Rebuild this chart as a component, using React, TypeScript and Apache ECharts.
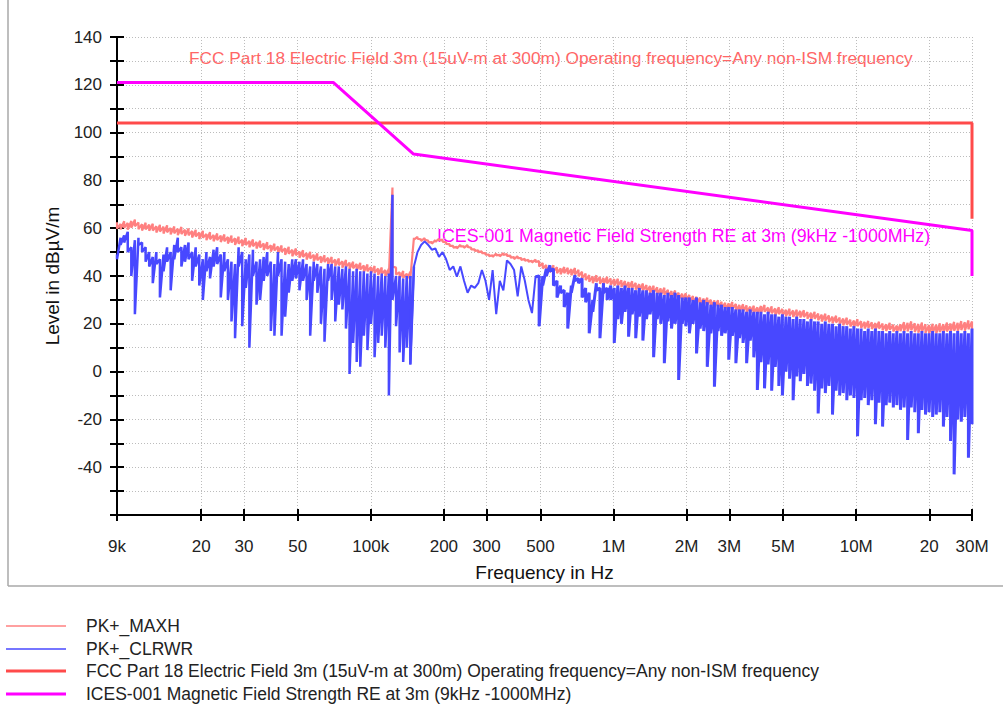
import React, { useEffect, useRef } from "react";
import * as echarts from "echarts";

// ---- sweep (measurement frequency grid, log spaced bins) ----
const FREQ_START = 9e3;
const FREQ_STOP = 30e6;
const SWEEP_POINTS = 240;

// ---- x-axis ticks ----
const xTickFreqs = [9e3, 2e4, 3e4, 5e4, 1e5, 2e5, 3e5, 5e5, 1e6, 2e6, 3e6, 5e6, 1e7, 2e7, 3e7];
const xTickLabels = ["9k", "20", "30", "50", "100k", "200", "300", "500", "1M", "2M", "3M", "5M", "10M", "20", "30M"];

// ---- PK+_MAXH: per-bin max and min level (dBµV/m) ----
const maxhHigh = [
  62.5, 61.8, 62.9, 62.2, 63.0, 63.6, 62.4, 61.7, 62.3, 61.5,
  61.9, 60.8, 61.4, 60.6, 61.2, 60.1, 60.7, 59.8, 60.5, 59.4,
  59.9, 58.8, 59.3, 58.2, 58.9, 57.6, 58.3, 57.2, 57.8, 56.9,
  57.4, 56.3, 56.9, 55.8, 56.4, 55.2, 55.9, 54.7, 55.3, 54.2,
  54.8, 53.6, 54.1, 52.9, 53.5, 52.3, 52.8, 51.6, 52.2, 51.0,
  51.5, 50.3, 50.8, 49.6, 50.1, 48.9, 49.4, 48.2, 48.7, 47.6,
  48.0, 46.9, 47.3, 46.2, 46.7, 45.6, 46.0, 45.0, 45.5, 44.4,
  44.8, 43.8, 44.2, 43.1, 43.6, 42.5, 43.0, 77.0, 43.5, 41.6,
  42.1, 41.0, 41.8, 56.0, 56.4, 55.3, 55.9, 54.8, 54.2, 55.0,
  55.6, 55.2, 54.1, 53.3, 52.6, 52.2, 53.1, 52.4, 53.0, 51.8,
  51.2, 50.7, 50.3, 49.6, 49.0, 48.7, 49.4, 48.9, 49.6, 49.2,
  48.5, 47.9, 48.3, 47.5, 47.2, 46.8, 46.4, 46.9, 46.2, 45.4,
  44.6, 44.0, 44.5, 43.7, 43.2, 43.8, 43.4, 42.9, 43.3, 42.6,
  41.8, 41.0, 40.4, 39.8, 40.3, 39.6, 39.2, 39.7, 39.0, 38.7,
  38.9, 38.2, 37.9, 37.5, 37.8, 37.1, 36.6, 36.9, 36.2, 35.8,
  35.9, 35.3, 34.8, 35.1, 34.2, 33.7, 33.9, 33.0, 32.6, 32.8,
  32.1, 31.6, 31.3, 31.0, 30.6, 30.9, 30.1, 29.7, 29.9, 29.2,
  28.8, 28.6, 29.1, 28.3, 27.9, 28.2, 27.7, 27.2, 27.6, 26.9,
  27.5, 27.9, 26.8, 27.3, 26.4, 26.9, 26.2, 25.9, 26.3, 25.6,
  25.9, 25.4, 25.7, 24.9, 24.6, 25.0, 24.3, 23.8, 24.2, 23.5,
  23.0, 23.4, 22.6, 22.2, 22.5, 21.7, 21.4, 21.9, 21.1, 20.8,
  21.2, 20.6, 20.3, 20.9, 20.1, 19.8, 20.4, 19.6, 19.3, 19.8,
  20.7, 20.4, 21.0, 20.2, 19.9, 20.5, 19.8, 19.5, 20.0, 19.6,
  20.2, 19.8, 20.5, 20.1, 20.8, 20.4, 21.1, 20.7, 21.4, 21.0,
];
const maxhLow = [
  59.8, 59.5, 60.1, 59.4, 60.2, 60.8, 59.6, 59.0, 59.5, 58.9,
  59.0, 58.2, 58.6, 57.8, 58.3, 57.4, 57.9, 57.1, 57.6, 56.8,
  57.0, 56.1, 56.5, 55.5, 56.0, 55.0, 55.4, 54.5, 55.0, 54.2,
  54.5, 53.6, 54.0, 53.0, 53.5, 52.5, 53.0, 52.0, 52.4, 51.5,
  51.9, 50.9, 51.3, 50.2, 50.7, 49.6, 50.0, 48.9, 49.3, 48.3,
  48.7, 47.6, 48.0, 46.9, 47.3, 46.2, 46.6, 45.5, 45.9, 44.9,
  45.2, 44.2, 44.5, 43.5, 43.9, 42.9, 43.2, 42.3, 42.7, 41.7,
  42.0, 41.1, 41.4, 40.4, 40.8, 39.8, 40.2, 44.0, 40.6, 38.9,
  39.3, 38.4, 39.0, 55.2, 55.6, 54.6, 55.1, 54.1, 53.5, 54.3,
  54.9, 54.4, 53.4, 52.6, 51.9, 51.5, 52.4, 51.7, 52.2, 51.1,
  50.5, 50.0, 49.6, 48.9, 48.3, 48.0, 48.6, 48.2, 48.8, 48.4,
  47.7, 47.1, 47.5, 46.7, 46.4, 46.0, 45.6, 45.9, 44.0, 43.2,
  42.2, 41.6, 42.0, 41.2, 40.7, 41.2, 40.8, 40.3, 40.6, 39.9,
  39.0, 38.3, 37.6, 37.0, 37.5, 36.8, 36.4, 36.9, 36.2, 35.9,
  36.0, 35.4, 35.0, 34.7, 34.9, 34.3, 33.8, 34.0, 33.4, 33.0,
  33.0, 32.5, 32.0, 32.2, 31.4, 30.9, 31.0, 30.2, 29.8, 29.9,
  29.3, 28.8, 28.4, 28.2, 27.8, 28.0, 27.3, 26.9, 27.0, 26.4,
  26.0, 25.8, 26.2, 25.5, 25.1, 25.3, 24.9, 24.4, 24.7, 24.1,
  24.6, 25.0, 24.0, 24.4, 23.6, 24.0, 23.4, 23.1, 23.4, 22.8,
  23.0, 22.6, 22.8, 22.1, 21.8, 22.1, 21.5, 21.0, 21.3, 20.7,
  20.2, 20.5, 19.8, 19.4, 19.6, 18.9, 18.6, 19.0, 18.3, 18.0,
  18.3, 17.8, 17.5, 18.0, 17.3, 17.0, 17.5, 16.8, 16.5, 16.9,
  17.0, 16.8, 17.3, 16.6, 16.3, 16.8, 16.2, 15.9, 16.3, 16.0,
  16.5, 16.2, 16.8, 16.5, 17.1, 16.8, 17.4, 17.1, 17.7, 17.4,
];

// ---- PK+_CLRWR: per-bin max and min level (dBµV/m) ----
const clrwrHigh = [
  49, 56, 57, 58.5, 52, 55, 56, 54, 52, 50,
  48, 50, 47, 49, 52, 50, 53, 56, 52, 53,
  54, 50, 52, 49, 47, 50, 48, 51, 52, 49,
  50, 47, 46, 45, 52, 50, 47, 49, 51, 46,
  47, 48, 50, 46, 45, 50, 47, 46, 45, 47,
  47, 46, 47, 45, 44, 46, 45, 44, 43, 45,
  45, 44, 44, 43, 44, 43, 42, 43, 42, 42,
  41, 42, 41, 40, 41, 40, 41, 74, 40, 40,
  39, 40, 40, 44, 50, 53, 54.5, 53, 51, 51.5,
  48, 50, 47, 42.5, 44, 39.7, 44, 38, 33, 36,
  35, 37, 42.5, 38, 30, 42.5, 24, 38, 34, 46.5,
  45, 42.5, 31.5, 44, 38, 30, 24.5, 39.7, 40, 40,
  43, 44.5, 43, 38, 36, 34, 33, 36, 40.4, 39,
  39, 35, 33, 30, 37, 35, 37, 35, 36, 35,
  36, 35, 36, 35, 35, 34, 35, 34, 34, 33,
  34, 33, 33, 32, 33, 32, 33, 32, 31, 31,
  31, 30, 31, 29, 30, 29, 28, 29, 28, 28,
  27, 27, 27, 26, 26, 26, 25, 26, 25, 25,
  25, 24, 25, 24, 24, 23, 24, 23, 23, 22,
  23, 22, 22, 21, 22, 21, 21, 20, 21, 20,
  20, 19, 20, 19, 19, 18, 19, 18, 18, 17,
  18, 17, 18, 17, 17, 16, 17, 16, 17, 16,
  17, 16, 17, 16, 16, 17, 16, 16, 17, 16,
  16, 17, 16, 17, 16, 17, 16, 17, 16, 18,
];
const clrwrLow = [
  47, 53, 54, 50, 40, 24, 53, 50, 46, 44,
  37, 45, 31, 42, 46, 34, 47, 50, 44, 46,
  47, 38, 44, 36, 30, 42, 39, 44, 45, 31,
  42, 30, 21, 14, 44, 19, 35, 10, 40, 28,
  30, 38, 40, 17, 15, 40, 15, 23, 33, 38,
  39, 34, 38, 30, 15, 38, 33, 20, 12.5, 38,
  30, 21, 28, 26, 18, -1, 12, 4, 2, 15,
  9, 20, 6, 12, 15, 10, -10, 30, 19, 8,
  4, 10, 3, 44, 50, 53, 54.5, 53, 51, 51.5,
  48, 50, 47, 42.5, 44, 39.7, 44, 38, 33, 36,
  35, 37, 42.5, 38, 30, 42.5, 24, 38, 34, 46.5,
  45, 42.5, 31.5, 44, 38, 30, 24.5, 39.7, 19, 36,
  40, 42, 36, 31, 33, 27, 18, 33, 38, 37,
  31, 29, 16, 25, 34, 14, 33, 30, 30, 12,
  22, 20, 25, 14.6, 24, 14, 23, 13, 22, 24,
  6, 22, 20, 3.5, 21, 18, 20, -3.5, 20, 19,
  16, 20, 7.6, 18, 17, 2, 16, -6.3, 17, 15,
  16, 5, 15, 3.5, 14, 12, 3.5, 13, 6, -7.7,
  4, -7, 3, -8, 2, -6, -10, 0, -3, -12,
  -2, -4, -1, -6, -5, -8, -17.5, -7, -9, -6,
  -18, -8, -10, -9, -12, -10, -11, -27, -12, -11,
  -14, -12, -22, -13, -23, -14, -13, -15, -14, -16,
  -15, -28.6, -15, -17, -25.8, -16, -18, -17, -19, -18,
  -17, -23, -19, -29, -43, -20, -21, -19, -36, -22,
];

// ---- limit lines ----
const fccFreqs = [9e3, 30e6, 30e6];
const fccLevels = [104, 104, 64];
const icesFreqs = [9e3, 70e3, 150e3, 30e6, 30e6];
const icesLevels = [121, 121, 91, 59, 40];

const seriesNames = [
  "PK+_MAXH",
  "PK+_CLRWR",
  "FCC Part 18 Electric Field 3m (15uV-m at 300m) Operating frequency=Any non-ISM frequency",
  "ICES-001 Magnetic Field Strength RE at 3m (9kHz -1000MHz)",
];
const seriesColors = ["#ff8080", "#4848ff", "#ff4a4a", "#ff00ff"];

const FONT = "'Liberation Sans', Arial, sans-serif";

export default function App() {
  const ref = useRef<HTMLDivElement>(null);

  useEffect(() => {
    const el = ref.current;
    if (!el) return;
    const chart = echarts.init(el, null, { renderer: "svg" });
    const lg = (f: number) => Math.log10(f);
    const xMin = lg(FREQ_START);
    const xMax = lg(FREQ_STOP);
    const tickVals = xTickFreqs.map(lg);
    const sweep: number[] = [];
    for (let i = 0; i < SWEEP_POINTS; i++) {
      sweep.push(xMin + ((xMax - xMin) * i) / (SWEEP_POINTS - 1));
    }
    // each bin drawn as max -> min (min/max display detector)
    const binData = (hi: number[], lo: number[], from = 0, to = SWEEP_POINTS - 1) => {
      const out: number[][] = [];
      for (let i = from; i <= to; i++) {
        out.push([sweep[i], hi[i]]);
        if (lo[i] !== hi[i]) out.push([sweep[i], lo[i]]);
      }
      return out;
    };
    const fmtX = (v: number) => {
      let best = 0;
      for (let k = 1; k < tickVals.length; k++) {
        if (Math.abs(tickVals[k] - v) < Math.abs(tickVals[best] - v)) best = k;
      }
      return xTickLabels[best];
    };
    const dotted = { color: "#bcbcbc", width: 1, type: [1, 2] as any };
    const black = { color: "#000", width: 2 };
    const textFont = `17.5px ${FONT}`;

    const legendRows = [626, 649, 671, 694];
    const legendWidths = [1.5, 1.5, 3, 3];
    const legendGraphics: any[] = [];
    seriesNames.forEach((n, k) => {
      legendGraphics.push({
        type: "line",
        shape: { x1: 6, y1: legendRows[k], x2: 66, y2: legendRows[k] },
        style: { stroke: seriesColors[k], lineWidth: legendWidths[k] },
      });
      legendGraphics.push({
        type: "text",
        x: 86,
        y: legendRows[k],
        style: { text: n, fill: "#222", font: textFont, verticalAlign: "middle" },
      });
    });

    // CLRWR drawn in three pieces: dense noise below 150 kHz, clean trace up to 500 kHz, dense noise above
    const clrwrPieces = [
      { from: 0, to: 83, width: 2.5 },
      { from: 82, to: 118, width: 2 },
      { from: 117, to: 239, width: 3 },
    ];

    chart.setOption({
      animation: false,
      backgroundColor: "#fff",
      grid: { left: 117, right: 31, top: 37, bottom: 193, containLabel: false },
      xAxis: [
        {
          type: "value",
          min: xMin,
          max: xMax,
          position: "bottom",
          axisLine: { show: true, onZero: false, lineStyle: black },
          axisTick: { show: true, customValues: tickVals, length: 6, lineStyle: black },
          axisLabel: {
            customValues: tickVals,
            formatter: fmtX,
            margin: 23,
            color: "#222",
            fontSize: 17,
            fontFamily: FONT,
          },
          splitLine: { show: true, lineStyle: dotted },
          name: "Frequency in Hz",
          nameLocation: "middle",
          nameGap: 48,
          nameTextStyle: { fontSize: 19, color: "#111", fontFamily: FONT },
        },
        {
          type: "value",
          min: xMin,
          max: xMax,
          position: "bottom",
          axisLine: { show: false, onZero: false },
          axisTick: { show: true, inside: true, customValues: tickVals, length: 6, lineStyle: black },
          axisLabel: { show: false },
          splitLine: { show: false },
        },
      ],
      yAxis: [
        {
          type: "value",
          min: -60,
          max: 140,
          interval: 20,
          position: "left",
          axisLine: { show: true, onZero: false, lineStyle: black },
          axisTick: { show: true, length: 7, lineStyle: black },
          minorTick: { show: true, splitNumber: 2, length: 7, lineStyle: black },
          axisLabel: {
            margin: 15,
            color: "#222",
            fontSize: 17,
            fontFamily: FONT,
            formatter: (v: number) => (v === -60 ? "" : String(v)),
          },
          splitLine: { show: true, lineStyle: dotted },
          minorSplitLine: { show: true, lineStyle: dotted },
          name: "Level in dBµV/m",
          nameLocation: "middle",
          nameGap: 55,
          nameTextStyle: { fontSize: 19, color: "#111", fontFamily: FONT },
        },
        {
          type: "value",
          min: -60,
          max: 140,
          interval: 20,
          position: "left",
          axisLine: { show: false, onZero: false },
          axisTick: { show: true, inside: true, length: 7, lineStyle: black },
          minorTick: { show: true, splitNumber: 2, length: 7, lineStyle: black },
          axisLabel: { show: false },
          splitLine: { show: false },
        },
      ],
      series: [
        {
          name: seriesNames[0],
          type: "line",
          showSymbol: false,
          data: binData(maxhHigh, maxhLow),
          lineStyle: { color: seriesColors[0], width: 2.2 },
          itemStyle: { color: seriesColors[0] },
        },
        ...clrwrPieces.map((p) => ({
          name: seriesNames[1],
          type: "line",
          showSymbol: false,
          data: binData(clrwrHigh, clrwrLow, p.from, p.to),
          lineStyle: { color: seriesColors[1], width: p.width },
          itemStyle: { color: seriesColors[1] },
        })),
        {
          name: seriesNames[2],
          type: "line",
          showSymbol: false,
          data: fccFreqs.map((f, i) => [lg(f), fccLevels[i]]),
          lineStyle: { color: seriesColors[2], width: 3 },
          itemStyle: { color: seriesColors[2] },
        },
        {
          name: seriesNames[3],
          type: "line",
          showSymbol: false,
          data: icesFreqs.map((f, i) => [lg(f), icesLevels[i]]),
          lineStyle: { color: seriesColors[3], width: 3 },
          itemStyle: { color: seriesColors[3] },
        },
      ],
      graphic: [
        {
          type: "line",
          shape: { x1: 8, y1: 0, x2: 8, y2: 586 },
          style: { stroke: "#a8a8a8", lineWidth: 1.5 },
        },
        {
          type: "line",
          shape: { x1: 8, y1: 586, x2: 1003, y2: 586 },
          style: { stroke: "#a8a8a8", lineWidth: 1.5 },
        },
        {
          type: "text",
          x: 189,
          y: 58,
          style: { text: seriesNames[2], fill: "#ff6666", font: `17.3px ${FONT}`, verticalAlign: "middle" },
        },
        {
          type: "text",
          x: 437,
          y: 236,
          style: { text: seriesNames[3], fill: "#ff00ff", font: `17.8px ${FONT}`, verticalAlign: "middle" },
        },
        ...legendGraphics,
      ],
    });

    return () => chart.dispose();
  }, []);

  return (
    <div
      ref={ref}
      style={{ position: "absolute", left: 0, top: 0, width: 1003, height: 708, background: "#fff" }}
    />
  );
}
